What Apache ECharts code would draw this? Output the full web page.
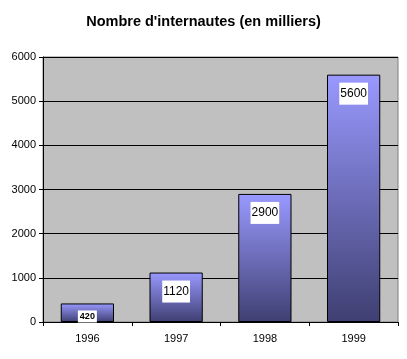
<!DOCTYPE html>
<html><head><meta charset="utf-8">
<script src="https://cdn.jsdelivr.net/npm/echarts@6/dist/echarts.min.js"></script>
<style>html,body{margin:0;padding:0;background:#fff}#c{width:407px;height:359px}</style>
</head><body><div id="c"></div>
<script>
const categories = ['1996', '1997', '1998', '1999'];
const values = [420, 1120, 2900, 5600];
const yTicks = [0, 1000, 2000, 3000, 4000, 5000, 6000];

const chart = echarts.init(document.getElementById('c'), null, {renderer: 'canvas'});
const grad = new echarts.graphic.LinearGradient(0, 0, 0, 1, [
  {offset: 0, color: '#9999ff'},
  {offset: 1, color: '#3f3f72'}
]);
const data = values.map((v, i) => ({
  value: v,
  label: i === 0 ? {fontSize: 9, fontWeight: 'bold', padding: [2, 2, 1, 2], distance: 7}
                 : {fontSize: 12, padding: [5, 1, 5, 1], distance: 8}
}));
chart.setOption({
  animation: false,
  backgroundColor: '#ffffff',
  title: {
    text: "Nombre d'internautes (en milliers)",
    left: 'center', top: 9,
    textStyle: {fontFamily: 'Liberation Sans', fontSize: 14.5, fontWeight: 'bold', color: '#000'}
  },
  grid: {left: 43, right: 9, top: 57, bottom: 37, show: true, backgroundColor: '#c0c0c0', borderColor: '#808080', borderWidth: 1},
  xAxis: {
    type: 'category', data: categories,
    axisLine: {lineStyle: {color: '#000', width: 1}},
    axisTick: {show: true, length: 4, alignWithLabel: false, lineStyle: {color: '#000'}},
    axisLabel: {fontFamily: 'Liberation Sans', fontSize: 11, color: '#000', margin: 11},
    splitLine: {show: false}
  },
  yAxis: {
    type: 'value', min: yTicks[0], max: yTicks[yTicks.length - 1], interval: 1000,
    axisLine: {show: true, lineStyle: {color: '#000', width: 1}},
    axisTick: {show: true, length: 4, lineStyle: {color: '#000'}},
    axisLabel: {fontFamily: 'Liberation Sans', fontSize: 11, color: '#000', margin: 7, formatter: v => String(v)},
    splitLine: {show: true, lineStyle: {color: '#000', width: 1}}
  },
  series: [{
    type: 'bar', data: data, barWidth: '60%',
    itemStyle: {color: grad, borderColor: '#000', borderWidth: 1},
    label: {
      show: true, position: 'insideTop', color: '#000', backgroundColor: '#fff',
      fontFamily: 'Liberation Sans'
    }
  }]
});
</script></body></html>
